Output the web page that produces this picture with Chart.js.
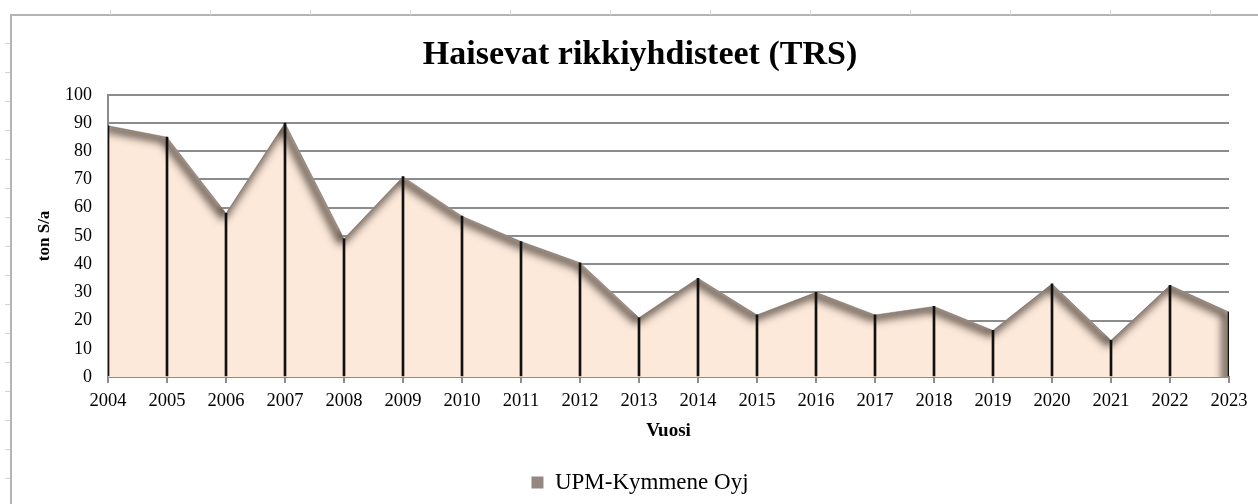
<!DOCTYPE html>
<html>
<head>
<meta charset="utf-8">
<script src="https://cdn.jsdelivr.net/npm/chart.js@4.4.0/dist/chart.umd.min.js"></script>
<style>
  html, body { margin: 0; padding: 0; background: #ffffff; }
  body { width: 1258px; height: 504px; position: relative; overflow: hidden; }
  #frame { position: absolute; left: 10px; top: 14px; width: 1400px; height: 700px; border: 2px solid #b4b4b4; box-sizing: border-box; }
  .tk { position: absolute; background: #d4d4d4; }
  #wrap { position: absolute; left: 0; top: 0; width: 1258px; height: 504px; }
</style>
</head>
<body>
<div id="frame"></div>
<div id="ticks"></div>
<div id="wrap"><canvas id="c" width="1258" height="504"></canvas></div>
<script>
const categories = ["2004","2005","2006","2007","2008","2009","2010","2011","2012","2013","2014","2015","2016","2017","2018","2019","2020","2021","2022","2023"];
const values = [89, 85, 58, 90, 49, 71, 57, 48, 40.5, 21, 35, 22, 30, 22, 25, 16.5, 33, 13, 32.5, 23];
const seriesName = "UPM-Kymmene Oyj";
const titleText = "Haisevat rikkiyhdisteet (TRS)";
const yTitle = "ton S/a";
const xTitle = "Vuosi";

// faint sheet ticks around the frame
(function(){
  const t = document.getElementById('ticks');
  for (let x = 110; x < 1258; x += 100) {
    const d = document.createElement('div'); d.className = 'tk';
    d.style.left = x + 'px'; d.style.top = '10px'; d.style.width = '1px'; d.style.height = '5px'; t.appendChild(d);
  }
  for (let y = 43; y < 504; y += 29) {
    const d = document.createElement('div'); d.className = 'tk';
    d.style.left = '5px'; d.style.top = y + 'px'; d.style.width = '5px'; d.style.height = '1px'; t.appendChild(d);
  }
})();

// inner shadow along the top edge of the area, clipped to the filled region
const shadowPlugin = {
  id: 'areaShadow',
  afterDatasetDraw(chart, args) {
    if (args.index !== 1) return;
    const pts = chart.getDatasetMeta(1).data;
    if (!pts.length) return;
    const ctx = chart.ctx;
    const base = chart.scales.y.getPixelForValue(0);
    const last = pts[pts.length - 1];
    const OFF = 5000;
    ctx.save();
    ctx.beginPath();
    ctx.rect(chart.chartArea.left, chart.chartArea.top, chart.chartArea.right - chart.chartArea.left, chart.chartArea.bottom - chart.chartArea.top);
    ctx.clip();
    ctx.beginPath();
    ctx.moveTo(pts[0].x, base);
    pts.forEach(p => ctx.lineTo(p.x, p.y));
    ctx.lineTo(last.x, base);
    ctx.closePath();
    ctx.clip();
    ctx.beginPath();
    pts.forEach((p, i) => i ? ctx.lineTo(p.x + OFF, p.y) : ctx.moveTo(p.x + OFF, p.y));
    ctx.lineTo(last.x + OFF, base + 30);
    ctx.lineJoin = 'round';
    ctx.lineWidth = 7;
    ctx.strokeStyle = '#000';
    ctx.shadowColor = 'rgba(60,48,40,0.95)';
    ctx.shadowBlur = 8;
    ctx.shadowOffsetX = -OFF - 3;
    ctx.shadowOffsetY = 2;
    ctx.stroke();
    ctx.restore();
  }
};

const serif = "'Liberation Serif', 'Times New Roman', serif";

new Chart(document.getElementById('c'), {
  data: {
    labels: categories,
    datasets: [
      {
        type: 'bar',
        label: 'drop',
        data: values,
        backgroundColor: '#111111',
        barThickness: 2,
        order: 1
      },
      {
        type: 'line',
        label: seriesName,
        data: values,
        fill: 'origin',
        backgroundColor: 'rgb(252,233,218)',
        borderColor: 'rgba(160,150,142,0.7)',
        borderWidth: 1,
        pointRadius: 0,
        tension: 0,
        order: 2
      }
    ]
  },
  plugins: [shadowPlugin],
  options: {
    responsive: false,
    animation: false,
    layout: { padding: { left: 51, right: 29, top: 18, bottom: 0 } },
    plugins: {
      tooltip: { enabled: false },
      title: {
        display: true,
        text: titleText,
        color: '#000',
        font: { family: serif, size: 34, weight: 'bold' },
        padding: { top: 17, bottom: 19 }
      },
      legend: {
        display: true,
        position: 'bottom',
        labels: {
          color: '#000',
          font: { family: serif, size: 23 },
          boxWidth: 12,
          boxHeight: 12,
          padding: 8,
          filter: (item) => item.datasetIndex === 1,
          generateLabels: (chart) => [{
            text: seriesName,
            fillStyle: '#958880',
            strokeStyle: '#958880',
            lineWidth: 0,
            fontColor: '#000',
            datasetIndex: 1
          }]
        }
      }
    },
    scales: {
      x: {
        offset: false,
        grid: { display: true, offset: false, drawOnChartArea: false, drawTicks: true, tickLength: 6, color: '#8c8c8c', lineWidth: 2 },
        border: { display: true, color: '#8c8c8c', width: 2 },
        ticks: { color: '#000', font: { family: serif, size: 18.5 }, maxRotation: 0, autoSkip: false, padding: 7 },
        title: { display: true, text: xTitle, color: '#000', font: { family: serif, size: 19, weight: 'bold' }, padding: { top: 0, bottom: 21 } }
      },
      y: {
        min: 0,
        max: 100,
        afterFit: (scale) => { scale.width = 57; },
        ticks: { stepSize: 10, color: '#000', font: { family: serif, size: 18 }, padding: 16 },
        grid: { color: '#8c8c8c', lineWidth: 2, drawTicks: false },
        border: { display: true, color: '#8c8c8c', width: 2 },
        title: { display: true, text: yTitle, color: '#000', font: { family: serif, size: 17, weight: 'bold' }, padding: { top: -17, bottom: 10 } }
      }
    }
  }
});
</script>
</body>
</html>
